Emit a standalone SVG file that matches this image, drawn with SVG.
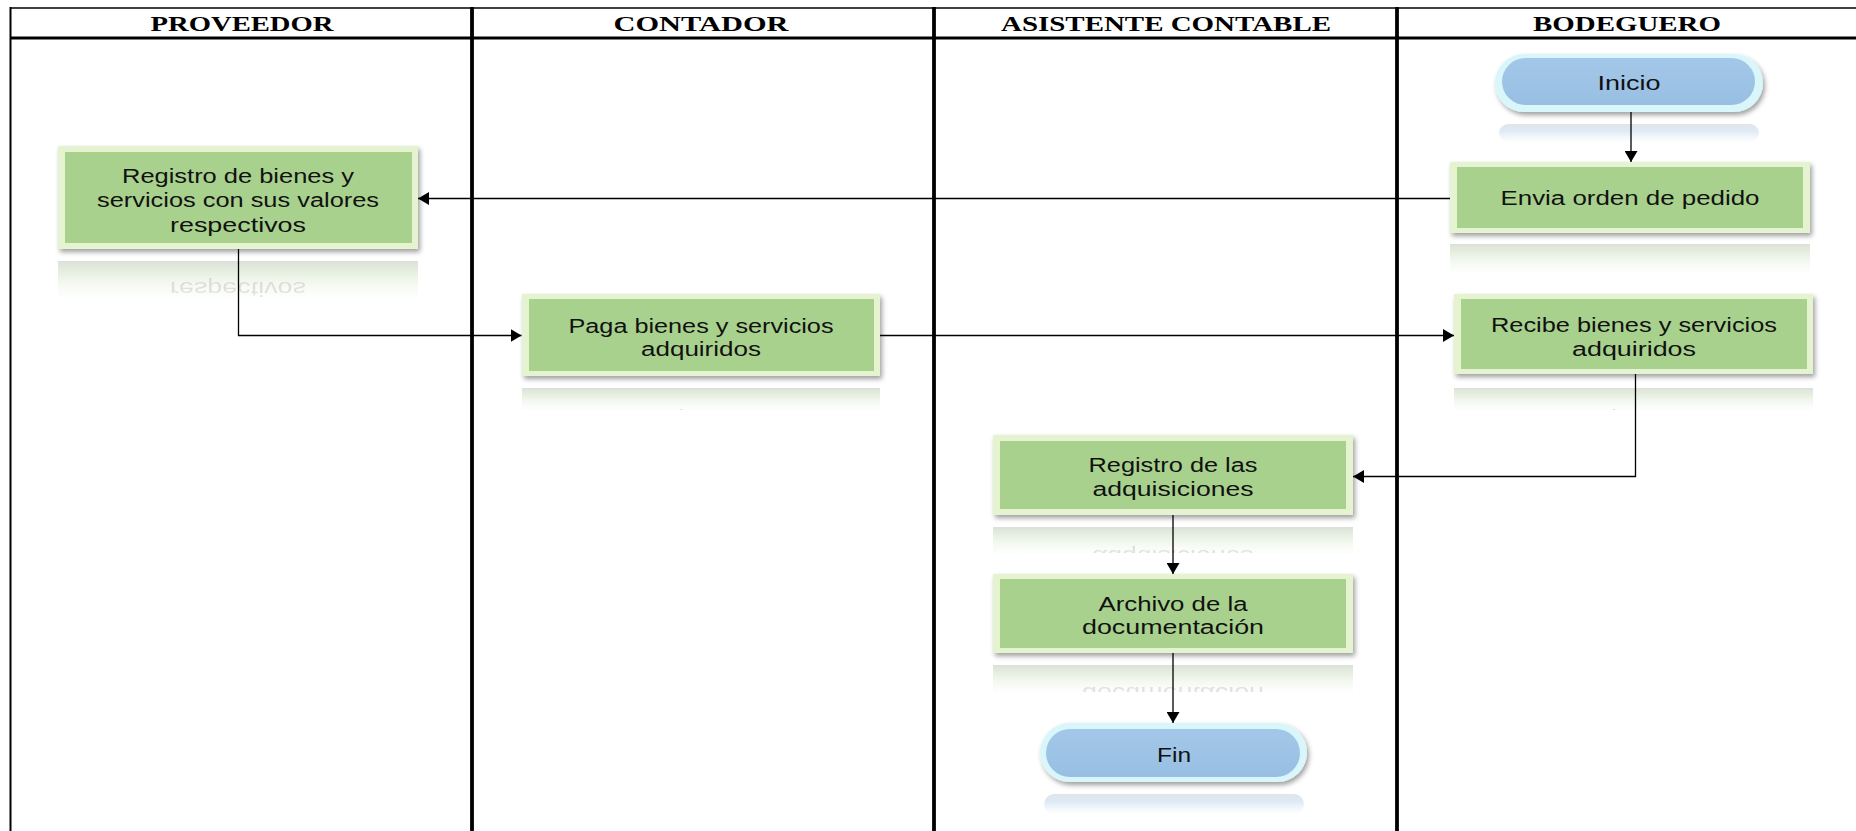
<svg xmlns="http://www.w3.org/2000/svg" width="1856" height="831" viewBox="0 0 1856 831">
  <style>
    .frame { stroke: #000; fill: none; }
    .hdr { font-family: "Liberation Serif", "Times New Roman", serif; font-weight: bold; font-size: 22px; fill: #000; text-anchor: middle; }
    .lbl { font-family: "Liberation Sans", Arial, sans-serif; font-size: 20px; fill: #111; text-anchor: middle; }
    .rim { fill: #e6f3d0; filter: url(#shadow); }
    .face { fill: #a9d18e; }
    .prim { fill: #d9f6fa; filter: url(#shadow); }
    .pface { fill: url(#pillFill); }
    .refl { fill: url(#reflGreen); }
    .reflb { fill: url(#reflBlue); }
    .mirror { opacity: 0.11; }
    .conn { stroke: #000; stroke-width: 1.3; fill: none; marker-end: url(#arr); }
  </style>
  <defs>
    <filter id="shadow" x="-10%" y="-20%" width="125%" height="150%">
      <feDropShadow dx="2" dy="3" stdDeviation="2.5" flood-color="#000" flood-opacity="0.38"/>
    </filter>
    <linearGradient id="pillFill" x1="0" y1="0" x2="0" y2="1">
      <stop offset="0" stop-color="#a3c7e8"/>
      <stop offset="1" stop-color="#98bfe3"/>
    </linearGradient>
    <linearGradient id="reflGreen" x1="0" y1="0" x2="0" y2="1">
      <stop offset="0" stop-color="#d9dfd5" stop-opacity="0.95"/>
      <stop offset="0.35" stop-color="#e2eddb" stop-opacity="0.8"/>
      <stop offset="1" stop-color="#f7fbf4" stop-opacity="0.25"/>
    </linearGradient>
    <linearGradient id="reflBlue" x1="0" y1="0" x2="0" y2="1">
      <stop offset="0" stop-color="#e0e3e7" stop-opacity="0.95"/>
      <stop offset="0.4" stop-color="#d8e6f4" stop-opacity="0.85"/>
      <stop offset="1" stop-color="#f4f8fc" stop-opacity="0.25"/>
    </linearGradient>
    <marker id="arr" viewBox="0 0 11 13" refX="11" refY="6.5" markerWidth="11" markerHeight="13" markerUnits="userSpaceOnUse" orient="auto">
      <path d="M0,0 L11,6.5 L0,13 z" fill="#000"/>
    </marker>
    <clipPath id="cR1"><rect x="58" y="261" width="360" height="36"/></clipPath>
    <clipPath id="cEnv"><rect x="1450" y="244" width="360" height="28"/></clipPath>
    <clipPath id="cPaga"><rect x="522" y="388" width="358" height="22"/></clipPath>
    <clipPath id="cRec"><rect x="1454" y="388" width="359" height="22"/></clipPath>
    <clipPath id="cRa"><rect x="993" y="527" width="360" height="26"/></clipPath>
    <clipPath id="cArc"><rect x="993" y="665" width="360" height="27"/></clipPath>
  </defs>

  <rect width="1856" height="831" fill="#fff"/>

  <!-- swimlane table -->
  <g id="lanes">
    <line class="frame" x1="10" y1="8" x2="1856" y2="8" stroke-width="1.6"/>
    <line class="frame" x1="10" y1="38" x2="1856" y2="38" stroke-width="3.2"/>
    <line class="frame" x1="10.5" y1="7" x2="10.5" y2="831" stroke-width="2"/>
    <line class="frame" x1="472" y1="7" x2="472" y2="831" stroke-width="3.8"/>
    <line class="frame" x1="934" y1="7" x2="934" y2="831" stroke-width="3.8"/>
    <line class="frame" x1="1397" y1="7" x2="1397" y2="831" stroke-width="3.8"/>
    <text class="hdr" x="242" y="31" textLength="183" lengthAdjust="spacingAndGlyphs">PROVEEDOR</text>
    <text class="hdr" x="701" y="31" textLength="175" lengthAdjust="spacingAndGlyphs">CONTADOR</text>
    <text class="hdr" x="1166" y="31" textLength="330" lengthAdjust="spacingAndGlyphs">ASISTENTE CONTABLE</text>
    <text class="hdr" x="1627" y="31" textLength="188" lengthAdjust="spacingAndGlyphs">BODEGUERO</text>
  </g>

  <!-- start terminal -->
  <g id="inicio">
    <rect class="reflb" x="1499" y="124" width="260" height="18" rx="9"/>
    <rect class="prim" x="1495" y="54" width="268" height="58" rx="29"/>
    <rect class="pface" x="1502" y="58" width="253" height="47" rx="23.5"/>
    <text class="lbl" x="1629" y="90" textLength="63" lengthAdjust="spacingAndGlyphs">Inicio</text>
  </g>

  <g id="envia">
    <g clip-path="url(#cEnv)">
      <rect class="refl" x="1450" y="244" width="360" height="28"/>
      <text class="lbl mirror" x="1630" y="205" textLength="259" lengthAdjust="spacingAndGlyphs" transform="translate(0,481) scale(1,-1)">Envia orden de pedido</text>
    </g>
    <rect class="rim" x="1450" y="162" width="360" height="71"/>
    <rect class="face" x="1457" y="167" width="346" height="61"/>
    <text class="lbl" x="1630" y="205" textLength="259" lengthAdjust="spacingAndGlyphs">Envia orden de pedido</text>
  </g>

  <g id="registro-bienes">
    <g clip-path="url(#cR1)">
      <rect class="refl" x="58" y="261" width="360" height="36"/>
      <text class="lbl mirror" x="238" y="231.5" textLength="136" lengthAdjust="spacingAndGlyphs" transform="translate(0,513) scale(1,-1)">respectivos</text>
    </g>
    <rect class="rim" x="58" y="146" width="360" height="103"/>
    <rect class="face" x="65" y="152" width="347" height="91"/>
    <text class="lbl" x="238" y="182.5" textLength="232" lengthAdjust="spacingAndGlyphs">Registro de bienes y</text>
    <text class="lbl" x="238" y="207" textLength="282" lengthAdjust="spacingAndGlyphs">servicios con sus valores</text>
    <text class="lbl" x="238" y="231.5" textLength="136" lengthAdjust="spacingAndGlyphs">respectivos</text>
  </g>

  <g id="paga">
    <g clip-path="url(#cPaga)">
      <rect class="refl" x="522" y="388" width="358" height="22"/>
      <text class="lbl mirror" x="701" y="356" textLength="120" lengthAdjust="spacingAndGlyphs" transform="translate(0,769) scale(1,-1)">adquiridos</text>
    </g>
    <rect class="rim" x="522" y="294" width="358" height="82"/>
    <rect class="face" x="529" y="299" width="345" height="72"/>
    <text class="lbl" x="701" y="332.5" textLength="265" lengthAdjust="spacingAndGlyphs">Paga bienes y servicios</text>
    <text class="lbl" x="701" y="356" textLength="120" lengthAdjust="spacingAndGlyphs">adquiridos</text>
  </g>

  <g id="recibe">
    <g clip-path="url(#cRec)">
      <rect class="refl" x="1454" y="388" width="359" height="22"/>
      <text class="lbl mirror" x="1634" y="356" textLength="124" lengthAdjust="spacingAndGlyphs" transform="translate(0,769) scale(1,-1)">adquiridos</text>
    </g>
    <rect class="rim" x="1454" y="294" width="359" height="80"/>
    <rect class="face" x="1461" y="299" width="346" height="70"/>
    <text class="lbl" x="1634" y="332" textLength="286" lengthAdjust="spacingAndGlyphs">Recibe bienes y servicios</text>
    <text class="lbl" x="1634" y="355.5" textLength="124" lengthAdjust="spacingAndGlyphs">adquiridos</text>
  </g>

  <g id="registro-adquisiciones">
    <g clip-path="url(#cRa)">
      <rect class="refl" x="993" y="527" width="360" height="26"/>
      <text class="lbl mirror" x="1173" y="495.5" textLength="161" lengthAdjust="spacingAndGlyphs" transform="translate(0,1045) scale(1,-1)">adquisiciones</text>
    </g>
    <rect class="rim" x="993" y="435" width="360" height="80"/>
    <rect class="face" x="1000" y="441" width="346" height="68"/>
    <text class="lbl" x="1173" y="472" textLength="169" lengthAdjust="spacingAndGlyphs">Registro de las</text>
    <text class="lbl" x="1173" y="495.5" textLength="161" lengthAdjust="spacingAndGlyphs">adquisiciones</text>
  </g>

  <g id="archivo">
    <g clip-path="url(#cArc)">
      <rect class="refl" x="993" y="665" width="360" height="27"/>
      <text class="lbl mirror" x="1173" y="634" textLength="182" lengthAdjust="spacingAndGlyphs" transform="translate(0,1321) scale(1,-1)">documentación</text>
    </g>
    <rect class="rim" x="993" y="574" width="360" height="79"/>
    <rect class="face" x="1000" y="579" width="346" height="69"/>
    <text class="lbl" x="1173" y="610.5" textLength="149" lengthAdjust="spacingAndGlyphs">Archivo de la</text>
    <text class="lbl" x="1173" y="634" textLength="182" lengthAdjust="spacingAndGlyphs">documentación</text>
  </g>

  <!-- end terminal -->
  <g id="fin">
    <rect class="reflb" x="1044" y="794" width="260" height="20" rx="10"/>
    <rect class="prim" x="1040" y="723" width="267" height="59" rx="29.5"/>
    <rect class="pface" x="1046" y="729" width="254" height="48" rx="24"/>
    <text class="lbl" x="1174" y="762" textLength="34" lengthAdjust="spacingAndGlyphs">Fin</text>
  </g>

  <g id="connectors">
    <path class="conn" d="M1631,112 V162"/>
    <path class="conn" d="M1450,198.5 H418"/>
    <path class="conn" d="M238.5,249 V335.5 H521.5"/>
    <path class="conn" d="M880,335.5 H1454"/>
    <path class="conn" d="M1635.5,374 V476.5 H1353"/>
    <path class="conn" d="M1173,515 V574"/>
    <path class="conn" d="M1173,653 V723"/>
  </g>
</svg>
